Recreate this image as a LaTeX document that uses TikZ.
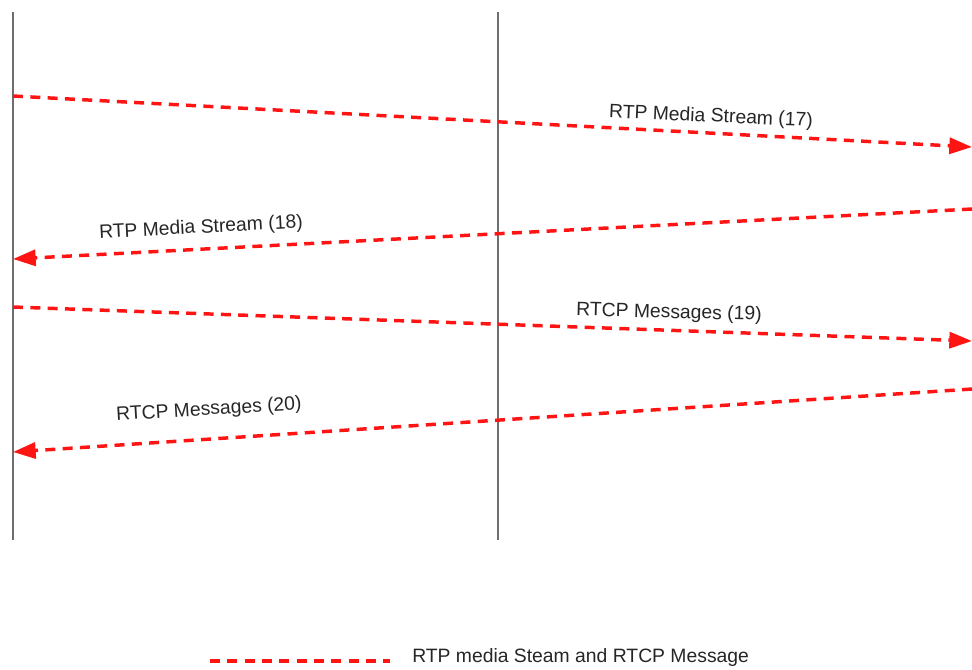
\documentclass[tikz,border=0pt]{standalone}
\usepackage{fontspec}
\setmainfont{Liberation Sans}
\usetikzlibrary{arrows.meta}
\definecolor{msgred}{RGB}{255,20,20}
\definecolor{lifegray}{RGB}{110,110,110}
\tikzset{
  lifeline/.style={draw=lifegray, line width=1.6pt},
  msg/.style={draw=msgred, line width=2.6pt, dash pattern=on 7.5pt off 5.5pt, -{Triangle[length=17pt,width=12pt]}},
  legendline/.style={draw=msgred, line width=2.6pt, dash pattern=on 7.5pt off 5.5pt},
  lbl/.style={font=\fontsize{14.5}{16}\selectfont, text=black!85, inner sep=0pt}
}
\begin{document}
\begin{tikzpicture}[x=0.75pt,y=-0.75pt]
\useasboundingbox (0,0) rectangle (972,669);
% lifelines
\coordinate (A1) at (13,12);
\coordinate (A2) at (13,540);
\coordinate (B1) at (498,12);
\coordinate (B2) at (498,540);
\draw[lifeline] (A1) -- (A2);
\draw[lifeline] (B1) -- (B2);
% message end points
\coordinate (s17) at (13,96);   \coordinate (e17) at (972,147);
\coordinate (s18) at (972,209); \coordinate (e18) at (13,259);
\coordinate (s19) at (13,307);  \coordinate (e19) at (972,341);
\coordinate (s20) at (972,389); \coordinate (e20) at (13,452);
\draw[msg] (s17) -- (e17);
\draw[msg] (s18) -- (e18);
\draw[msg] (s19) -- (e19);
\draw[msg] (s20) -- (e20);
% labels
\node[lbl, rotate=-2.5] (l17) at (711,117) {RTP Media Stream (17)};
\node[lbl, rotate=3.0] (l18) at (201,228) {RTP Media Stream (18)};
\node[lbl, rotate=-1.5] (l19) at (669,313) {RTCP Messages (19)};
\node[lbl, rotate=3.5] (l20) at (209,410) {RTCP Messages (20)};
% legend
\coordinate (g1) at (210,661);
\coordinate (g2) at (390,661);
\draw[legendline] (g1) -- (g2);
\node[lbl, anchor=west] (lg) at (412,657) {RTP media Steam and RTCP Message};
\end{tikzpicture}
\end{document}
